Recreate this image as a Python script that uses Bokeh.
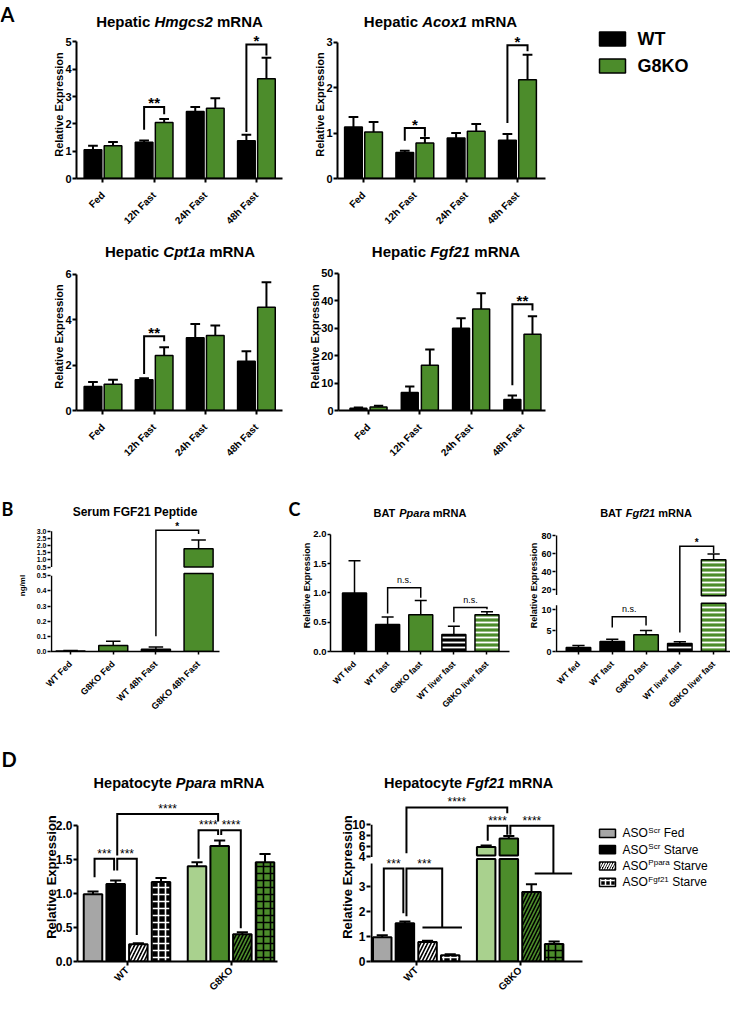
import math
import numpy as np
from bokeh.plotting import figure
from bokeh.layouts import column, row
from bokeh.models import Range1d, FixedTicker, Spacer, Title, PrintfTickFormatter
from bokeh.core.properties import value
from bokeh.embed import file_html
from bokeh.resources import INLINE

FONT = "Liberation Sans"
LETTER_FONT = "Lato"
BLACK = "#000000"
GREEN = "#4c8c2b"
LGREEN = "#a9d18e"
GRAY = "#a6a6a6"

# ---------------- Panel A data ----------------
A_cats = ["Fed", "12h Fast", "24h Fast", "48h Fast"]
hmgcs2_wt = [1.05, 1.33, 2.45, 1.38]
hmgcs2_wt_err = [0.15, 0.06, 0.17, 0.22]
hmgcs2_ko = [1.20, 2.05, 2.57, 3.65]
hmgcs2_ko_err = [0.14, 0.13, 0.37, 0.77]
hmgcs2_sig = [(1, "**", 2.62, 1.78, 2.35), (3, "*", 4.90, 1.70, 4.50)]

acox1_wt = [1.13, 0.57, 0.89, 0.84]
acox1_wt_err = [0.22, 0.04, 0.11, 0.14]
acox1_ko = [1.02, 0.78, 1.04, 2.17]
acox1_ko_err = [0.22, 0.11, 0.16, 0.55]
acox1_sig = [(1, "*", 1.11, 0.83, 0.92), (3, "*", 2.93, 1.22, 2.80)]

cpt1a_wt = [1.05, 1.35, 3.20, 2.16]
cpt1a_wt_err = [0.20, 0.07, 0.60, 0.44]
cpt1a_ko = [1.15, 2.42, 3.30, 4.54]
cpt1a_ko_err = [0.20, 0.36, 0.44, 1.10]
cpt1a_sig = [(1, "**", 3.26, 1.60, 3.04)]

fgf21_wt = [0.8, 6.6, 30.0, 4.0]
fgf21_wt_err = [0.3, 2.2, 3.7, 1.5]
fgf21_ko = [1.3, 16.5, 37.0, 27.8]
fgf21_ko_err = [0.4, 5.8, 5.8, 6.6]
fgf21_sig = [(3, "**", 38.8, 9.2, 36.5)]

# ---------------- Panel B data ----------------
B_cats = ["WT Fed", "G8KO Fed", "WT 48h Fast", "G8KO 48h Fast"]
B_geno = ["WT", "G8KO", "WT", "G8KO"]
serum_fgf21 = [0.004, 0.040, 0.015, 1.78]
serum_fgf21_err = [0.002, 0.028, 0.015, 0.61]
serum_sig = [(2, 3, 3.07, 0.10, 2.80, "*")]
serum_ticks_lo = [0.0, 0.1, 0.2, 0.3, 0.4, 0.5]
serum_ticks_up = [0.5, 1.0, 1.5, 2.0, 2.5, 3.0]

# ---------------- Panel C data ----------------
C_cats = ["WT fed", "WT fast", "G8KO fast", "WT liver fast", "G8KO liver fast"]
C_geno = ["WT", "WT", "G8KO", "WT", "G8KO"]
C_liver = [False, False, False, True, True]
bat_ppara = [1.00, 0.46, 0.63, 0.29, 0.63]
bat_ppara_err = [0.55, 0.13, 0.24, 0.14, 0.05]
bat_ppara_sig = [(1, 2, 1.09, 0.65, 0.92, "n.s."), (3, 4, 0.75, 0.50, 0.72, "n.s.")]
bat_fgf21 = [0.95, 2.4, 4.0, 1.9, 53.0]
bat_fgf21_err = [0.45, 0.5, 1.0, 0.4, 6.5]
bat_fgf21_sig = [(1, 2, 8.3, 5.7, 6.2, "n.s."), (3, 4, 68.0, 4.5, 60.5, "*")]
bat_fgf21_ticks_lo = [0, 5, 10]
bat_fgf21_ticks_up = [20, 40, 60, 80]

# ---------------- Panel D data ----------------
D_groups = ["WT", "G8KO"]
D_series_sup = ["Scr", "Scr", "Ppara", "Fgf21"]
D_series_cond = ["Fed", "Starve", "Starve", "Starve"]
hep_ppara = [[0.99, 1.14, 0.255, 1.17], [1.40, 1.70, 0.40, 1.46]]
hep_ppara_err = [[0.04, 0.05, 0.015, 0.06], [0.06, 0.08, 0.03, 0.12]]
hep_fgf21 = [[0.97, 1.52, 0.78, 0.25], [5.85, 7.40, 2.77, 0.70]]
hep_fgf21_err = [[0.08, 0.07, 0.05, 0.04], [0.25, 0.50, 0.31, 0.10]]
hep_fgf21_ticks_lo = [0, 1, 2, 3]
hep_fgf21_ticks_up = [4, 6, 8, 10]
# (group1, series1, group2, series2, top, left_end, right_end, label, tee)
hep_ppara_sig = [
    (0, 0, 0, 1, 1.51, 1.24, 1.34, "***", None),
    (0, 1, 0, 2, 1.51, 1.34, 0.39, "***", None),
    (0, 1, 1, 1, 2.17, 1.56, 2.06, "****", None),
    (1, 0, 1, 1, 1.93, 1.51, 1.86, "****", None),
    (1, 1, 1, 2, 1.93, 1.86, 0.49, "****", None),
]
hep_fgf21_sig = [
    (0, 0, 0, 1, 3.7, 1.20, 1.92, "***", None),
    (0, 1, 0, None, 3.7, 1.80, 1.35, "***", (0.25, 0.19)),
    (0, 1, 1, 1, 13.2, 4.7, 12.1, "****", None),
    (1, 0, 1, 1, 9.8, 7.0, 8.1, "****", None),
    (1, 1, 1, None, 9.8, 8.1, 3.5, "****", (0.32, 0.18)),
]

# ---------------- text metrics (Arial / Liberation Sans) ----------------
W_B = {' ': 278, 'A': 722, 'B': 722, 'C': 722, 'D': 722, 'E': 667, 'F': 611, 'G': 778, 'H': 722,
       'I': 278, 'K': 722, 'M': 833, 'N': 722, 'O': 778, 'P': 667, 'R': 722, 'S': 667, 'T': 611,
       'W': 944, 'a': 556, 'b': 611, 'c': 556, 'd': 611, 'e': 556, 'f': 333, 'g': 611, 'h': 611,
       'i': 278, 'l': 278, 'm': 889, 'n': 611, 'o': 611, 'p': 611, 'r': 389, 's': 556, 't': 333,
       'u': 611, 'v': 556, 'x': 556, 'y': 556, '.': 278, '*': 389}
W_R = {' ': 278, 'A': 667, 'O': 778, 'S': 667, 'F': 611, 'P': 667, 'a': 556, 'c': 500, 'd': 556,
       'e': 556, 'f': 278, 'g': 556, 'p': 556, 'r': 333, 't': 278, 'v': 500}


def tw(s, px, bold=True):
    t = W_B if bold else W_R
    return sum(t.get(c, 556) for c in s) * px / 1000.0


def ident(v):
    return v


def make_fig(w, h, xr, yr, mbl, mbr, mbt=0, mbb=0):
    p = figure(width=w, height=h, x_range=Range1d(*xr), y_range=Range1d(*yr),
               min_border_left=mbl, min_border_right=mbr, min_border_top=mbt,
               min_border_bottom=mbb, output_backend="svg", toolbar_location=None,
               tools="", title=None)
    p.grid.visible = False
    p.outline_line_color = None
    return p


def _style(ax, fs, lw, standoff, tick_out):
    ax.axis_line_width = lw
    ax.axis_line_color = BLACK
    ax.major_tick_line_width = lw
    ax.major_tick_line_color = BLACK
    ax.major_tick_in = 0
    ax.major_tick_out = tick_out
    ax.minor_tick_line_color = None
    ax.major_label_text_font = FONT
    ax.major_label_text_font_size = fs
    ax.major_label_text_font_style = "bold"
    ax.major_label_text_color = BLACK
    ax.major_label_standoff = standoff


def style_y(p, ticks, bounds, fs, lw, standoff=1, tick_out=4, fmt=None):
    ax = p.yaxis[0]
    ax.ticker = FixedTicker(ticks=list(ticks))
    ax.bounds = bounds
    if fmt:
        ax.formatter = PrintfTickFormatter(format=fmt)
    _style(ax, fs, lw, standoff, tick_out)


def style_x(p, labels, fs, lw, standoff=2, tick_out=4):
    ax = p.xaxis[0]
    ticks = list(range(len(labels)))
    ax.ticker = FixedTicker(ticks=ticks)
    ax.major_label_overrides = {t: l for t, l in zip(ticks, labels)}
    ax.major_label_orientation = math.pi / 4
    _style(ax, fs, lw, standoff, tick_out)


def axis_ylabel(p, text, fs, standoff):
    ax = p.yaxis[0]
    ax.axis_label = text
    ax.axis_label_text_font = FONT
    ax.axis_label_text_font_size = fs
    ax.axis_label_text_font_style = "bold"
    ax.axis_label_text_color = BLACK
    ax.axis_label_standoff = standoff


def title_ylabel(p, text, fs, offset, standoff=0):
    p.yaxis[0].axis_label_standoff = 0
    p.add_layout(Title(text=text, align="center", offset=offset, text_font=FONT,
                       text_font_size=fs, text_font_style="bold", text_color=BLACK,
                       standoff=standoff), "left")


def draw_bars(p, xs, bottoms, tops, bw, fills, lw=1.5, hatches=None, hcolors=None,
              hscale=6, hweight=1.5):
    if len(list(xs)) == 0:
        return
    kw = {}
    if hatches is not None:
        kw = dict(hatch_pattern=list(hatches), hatch_color=list(hcolors),
                  hatch_scale=hscale, hatch_weight=hweight)
    p.vbar(x=list(xs), bottom=list(bottoms), top=list(tops), width=bw,
           fill_color=list(fills), line_color=BLACK, line_width=lw, **kw)


def err_bars(p, xs, tops, errs, bw, elw=2.0, cap=0.55, T=ident):
    xs = list(xs)
    ups = [T(t + e) for t, e in zip(tops, errs)]
    lows = [T(t) for t in tops]
    half = bw * cap / 2.0
    p.segment(x0=xs, y0=lows, x1=xs, y1=ups, line_color=BLACK, line_width=elw)
    p.segment(x0=[x - half for x in xs], y0=ups, x1=[x + half for x in xs], y1=ups,
              line_color=BLACK, line_width=elw)


def bracket(p, x1, x2, top, yl, yr, lab, lw, fs, yoff, style="bold", T=ident, tee=None):
    p.line([x1, x1, x2, x2], [T(yl), T(top), T(top), T(yr)], line_color=BLACK,
           line_width=lw, line_join="miter")
    if tee is not None:
        p.segment(x0=[tee[0]], x1=[tee[1]], y0=[T(yr)], y1=[T(yr)], line_color=BLACK,
                  line_width=lw)
    if lab:
        p.text(x=[(x1 + x2) / 2.0], y=[T(top)], text=[lab], text_align="center",
               text_baseline="middle", y_offset=yoff, text_font=value(FONT),
               text_font_size=fs, text_font_style=style, text_color=BLACK)


class Broken:
    """Piecewise-linear broken y axis: values are mapped to pixel heights above zero."""

    def __init__(self, k_lo, lo_max, lo_top, base_up, v_up0, k_up, up_bottom, up_top,
                 lo_cut, up_cut):
        self.k_lo, self.lo_max, self.lo_top = k_lo, lo_max, lo_top
        self.base_up, self.v_up0, self.k_up = base_up, v_up0, k_up
        self.up_bottom, self.up_top = up_bottom, up_top
        self.lo_cut, self.up_cut = lo_cut, up_cut

    def lo(self, v):
        return v * self.k_lo

    def up(self, v):
        return self.base_up + (v - self.v_up0) * self.k_up

    def __call__(self, v):
        return self.lo(v) if v <= self.lo_max else self.up(v)

    def bars(self, p, xs, vals, bw, fills, **kw):
        xs, fills = list(xs), list(fills)
        hatches = kw.pop("hatches", None)
        hcolors = kw.pop("hcolors", None)
        lo_tops = [self.lo(v) if v <= self.lo_max else self.lo(self.lo_cut) for v in vals]
        draw_bars(p, xs, [0] * len(xs), lo_tops, bw, fills, hatches=hatches, hcolors=hcolors,
                  **kw)
        idx = [i for i, v in enumerate(vals) if v > self.lo_max]
        draw_bars(p, [xs[i] for i in idx], [self.up(self.up_cut)] * len(idx),
                  [self.up(vals[i]) for i in idx], bw, [fills[i] for i in idx],
                  hatches=None if hatches is None else [hatches[i] for i in idx],
                  hcolors=None if hcolors is None else [hcolors[i] for i in idx], **kw)

    def axis(self, p, ticks_lo, ticks_up, fmt, fs, lw, x0, standoff=1, tick_out=4):
        ticks = [round(self.lo(t), 3) for t in ticks_lo] + [round(self.up(t), 3) for t in ticks_up]
        labels = [fmt % t for t in ticks_lo] + [fmt % t for t in ticks_up]
        ax = p.yaxis[0]
        ax.ticker = FixedTicker(ticks=ticks)
        ax.major_label_overrides = {t: l for t, l in zip(ticks, labels)}
        _style(ax, fs, lw, standoff, tick_out)
        ax.axis_line_color = None
        p.segment(x0=[x0, x0], x1=[x0, x0],
                  y0=[self.lo(0), self.up(self.up_bottom)],
                  y1=[self.lo(self.lo_top), self.up(self.up_top)],
                  line_color=BLACK, line_width=lw)


def header(w, h, x0, y0, items):
    p = figure(width=w, height=h, x_range=Range1d(x0, x0 + w), y_range=Range1d(y0 + h, y0),
               x_axis_type=None, y_axis_type=None, min_border=0, output_backend="svg",
               toolbar_location=None, tools="", title=None)
    p.outline_line_color = None
    for x, y, txt, fs, style, font in items:
        p.text(x=[x], y=[y], text=[txt], text_font=value(font), text_font_size=fs,
               text_font_style=style, text_align="left", text_baseline="middle",
               text_color=BLACK)
    return p


def title_items(cx, y, parts, px):
    gap = tw(" ", px)
    total = sum(tw(t, px) for t, _ in parts) + gap * (len(parts) - 1)
    x = cx - total / 2.0
    out = []
    for t, st in parts:
        out.append((x, y, t, "%gpx" % px, st, FONT))
        x += tw(t, px) + gap
    return out


def gene_title(cx, y, pre, gene, px):
    return title_items(cx, y, [(pre, "bold"), (gene, "bold italic"), ("mRNA", "bold")], px)


# ---------------- Panel A figures ----------------
def panel_A(w, h, mbl, mbr, mbb, xr, yr, yticks, wt, wte, ko, koe, sig,
            bw=0.345, off=0.196):
    p = make_fig(w, h, xr, yr, mbl, mbr, 0, mbb)
    x = np.arange(len(A_cats))
    draw_bars(p, x - off, [0] * len(wt), wt, bw, [BLACK] * len(wt))
    draw_bars(p, x + off, [0] * len(ko), ko, bw, [GREEN] * len(ko))
    err_bars(p, x - off, wt, wte, bw)
    err_bars(p, x + off, ko, koe, bw)
    for g, lab, top, yl, yrr in sig:
        bracket(p, g - off, g + off, top, yl, yrr, lab, 2, "15px", -4)
    style_y(p, yticks, (yticks[0], yticks[-1]), "11px", 2, standoff=1)
    style_x(p, A_cats, "10px", 2, standoff=11)
    axis_ylabel(p, "Relative Expression", "11px", -3)
    return p


A1 = panel_A(292, 202, 76, 10, 52, (-0.518, 3.51), (0, 5.415), [0, 1, 2, 3, 4, 5],
             hmgcs2_wt, hmgcs2_wt_err, hmgcs2_ko, hmgcs2_ko_err, hmgcs2_sig)
A2 = panel_A(260, 202, 45, 7, 52, (-0.507, 3.546), (0, 3.254), [0, 1, 2, 3],
             acox1_wt, acox1_wt_err, acox1_ko, acox1_ko_err, acox1_sig)
A3 = panel_A(292, 202, 76, 10, 53, (-0.518, 3.51), (0, 6.507), [0, 2, 4, 6],
             cpt1a_wt, cpt1a_wt_err, cpt1a_ko, cpt1a_ko_err, cpt1a_sig)
A4 = panel_A(260, 202, 46, 7, 53, (-0.585, 3.45), (0, 54.0), [0, 10, 20, 30, 40, 50],
             fgf21_wt, fgf21_wt_err, fgf21_ko, fgf21_ko_err, fgf21_sig, bw=0.33)

# legend for panel A (spans header + first plot row)
legA = figure(width=178, height=232, x_range=Range1d(560, 738), y_range=Range1d(240, 8),
              x_axis_type=None, y_axis_type=None, min_border=0, output_backend="svg",
              toolbar_location=None, tools="", title=None)
legA.outline_line_color = None
LA_X, LA_Y, LA_DY, LA_W, LA_H = 607, 46.5, 27, 26, 14
legA.quad(left=[LA_X] * 2, right=[LA_X + LA_W] * 2,
          top=[LA_Y - LA_H / 2, LA_Y + LA_DY - LA_H / 2],
          bottom=[LA_Y + LA_H / 2, LA_Y + LA_DY + LA_H / 2],
          fill_color=[BLACK, GREEN], line_color=BLACK, line_width=1.5)
legA.text(x=[LA_X + 38] * 2, y=[LA_Y, LA_Y + LA_DY], text=["WT", "G8KO"],
          text_font=value(FONT), text_font_size="18px", text_font_style="bold",
          text_baseline="middle", text_color=BLACK)

# ---------------- Panel B (broken axis) ----------------
xr_B = (-0.47, 3.49)
B = make_fig(232, 211, xr_B, (0, 136), 50, 13, 0, 75)
bkB = Broken(k_lo=156, lo_max=0.5, lo_top=0.5, base_up=87, v_up0=0.5, k_up=14.8,
             up_bottom=0.5, up_top=3.0, lo_cut=0.515, up_cut=0.5)
xB = np.arange(len(B_cats))
fB = [BLACK if g == "WT" else GREEN for g in B_geno]
bwB = 0.68
bkB.bars(B, xB, serum_fgf21, bwB, fB)
err_bars(B, xB, serum_fgf21, serum_fgf21_err, bwB, elw=1.5, cap=0.5, T=bkB)
for i1, i2, top, yl, yr_, lab in serum_sig:
    bracket(B, i1, i2, top, yl, yr_, lab, 1.5, "10px", -4, T=bkB)
pxB = 169.0 / (xr_B[1] - xr_B[0])
bkB.axis(B, serum_ticks_lo, serum_ticks_up, "%.1f", "7px", 1.5, xr_B[0] + 1.0 / pxB, 1, 3)
style_x(B, B_cats, "9px", 1.5, 8, 3)
axis_ylabel(B, "ng/ml", "8px", 7)

# ---------------- Panel C ----------------
xC = np.arange(len(C_cats))
fC = [BLACK if g == "WT" else GREEN for g in C_geno]
hC = ["-" if lv else " " for lv in C_liver]
hcC = ["white"] * len(C_cats)
bwC = 0.725

C1 = make_fig(290, 211, (-0.725, 4.68), (0, 2.256), 98, 13, 0, 79)
draw_bars(C1, xC, [0] * 5, bat_ppara, bwC, fC, hatches=hC, hcolors=hcC, hscale=5,
          hweight=1.8)
err_bars(C1, xC, bat_ppara, bat_ppara_err, bwC, elw=1.5, cap=0.5)
for i1, i2, top, yl, yr_, lab in bat_ppara_sig:
    bracket(C1, i1, i2, top, yl, yr_, lab, 1.5, "9px", -8, style="normal")
style_y(C1, [0.0, 0.5, 1.0, 1.5, 2.0], (0.0, 2.0), "9.5px", 1.5, 1, 3, fmt="%.1f")
style_x(C1, C_cats, "8.5px", 1.5, 8, 3)
axis_ylabel(C1, "Relative Expression", "9px", -2)

xr_C2 = (-0.68, 4.5)
C2 = make_fig(208, 211, xr_C2, (0, 132), 33, 0, 0, 79)
bkC = Broken(k_lo=4.2, lo_max=15.0, lo_top=11.0, base_up=62.0, v_up0=20.0, k_up=0.9,
             up_bottom=14.0, up_top=80.0, lo_cut=11.5, up_cut=13.0)
bkC.bars(C2, xC, bat_fgf21, bwC, fC, hatches=hC, hcolors=hcC, hscale=5, hweight=1.8)
err_bars(C2, xC, bat_fgf21, bat_fgf21_err, bwC, elw=1.5, cap=0.5, T=bkC)
for i1, i2, top, yl, yr_, lab in bat_fgf21_sig:
    ns = lab == "n.s."
    bracket(C2, i1, i2, top, yl, yr_, lab, 1.5, "9px" if ns else "10px", -8 if ns else -4,
            style="normal" if ns else "bold", T=bkC)
pxC = 175.0 / (xr_C2[1] - xr_C2[0])
bkC.axis(C2, bat_fgf21_ticks_lo, bat_fgf21_ticks_up, "%d", "9px", 1.5,
         xr_C2[0] + 1.0 / pxC, 1, 3)
style_x(C2, C_cats, "8.5px", 1.5, 8, 3)
axis_ylabel(C2, "Relative Expression", "9px", -1)

# ---------------- Panel D ----------------
D_off = [-0.327, -0.109, 0.109, 0.327]
bwD = 0.178
D_fill = [[GRAY, BLACK, BLACK, BLACK], [LGREEN, GREEN, GREEN, GREEN]]
D_hatch = [" ", " ", "/", "+"]
D_hcol = [["white"] * 4, [BLACK] * 4]


def d_x(g, s):
    return g + D_off[s]


def d_brackets(p, sigs, fs, T=ident):
    for g1, s1, g2, s2, top, yl, yr_, lab, tee in sigs:
        x1 = d_x(g1, s1) + 0.015
        if s2 is None:
            x2 = g2 + tee[0]
            tspan = (x2 - tee[1], x2 + tee[1])
        else:
            x2 = d_x(g2, s2) - 0.015
            tspan = None
        bracket(p, x1, x2, top, yl, yr_, lab, 2, fs, -5, style="normal", T=T, tee=tspan)


xr_D1 = (-0.476, 1.447)
D1 = make_fig(292, 207, xr_D1, (0, 2.486), 77, 15, 0, 33)
for g in range(2):
    xs = [d_x(g, s) for s in range(4)]
    draw_bars(D1, xs, [0] * 4, hep_ppara[g], bwD, D_fill[g], lw=2, hatches=D_hatch,
              hcolors=D_hcol[g], hscale=7, hweight=1.6)
    err_bars(D1, xs, hep_ppara[g], hep_ppara_err[g], bwD, elw=2, cap=0.6)
d_brackets(D1, hep_ppara_sig, "12px")
style_y(D1, [0.0, 0.5, 1.0, 1.5, 2.0], (0.0, 2.0), "12px", 2, 1, 4, fmt="%.1f")
style_x(D1, D_groups, "10px", 2, 3, 4)
title_ylabel(D1, "Relative Expression", "13px", -17, standoff=-12)

xr_D2 = (-0.44, 1.6)
D2 = make_fig(300, 207, xr_D2, (0, 175), 78, 10, 0, 32)
bkD = Broken(k_lo=26.0, lo_max=3.95, lo_top=3.9, base_up=108.3, v_up0=4.0, k_up=5.57,
             up_bottom=4.0, up_top=10.0, lo_cut=4.08, up_cut=4.25)
for g in range(2):
    xs = [d_x(g, s) for s in range(4)]
    bkD.bars(D2, xs, hep_fgf21[g], bwD, D_fill[g], lw=2, hatches=D_hatch,
             hcolors=D_hcol[g], hscale=7, hweight=1.6)
    err_bars(D2, xs, hep_fgf21[g], hep_fgf21_err[g], bwD, elw=2, cap=0.6, T=bkD)
d_brackets(D2, hep_fgf21_sig, "12px", T=bkD)
pxD = 212.0 / (xr_D2[1] - xr_D2[0])
bkD.axis(D2, hep_fgf21_ticks_lo, hep_fgf21_ticks_up, "%d", "12px", 2,
         xr_D2[0] + 1.0 / pxD, 1, 4)
style_x(D2, D_groups, "10px", 2, 3, 4)
title_ylabel(D2, "Relative Expression", "13px", -16, standoff=-11)

# legend for panel D
legD = figure(width=138, height=207, x_range=Range1d(600, 738), y_range=Range1d(1007, 800),
              x_axis_type=None, y_axis_type=None, min_border=0, output_backend="svg",
              toolbar_location=None, tools="", title=None)
legD.outline_line_color = None
LD_X, LD_Y, LD_DY = 607, 850, 20
ys = [LD_Y + i * LD_DY for i in range(4)]
legD.quad(left=[LD_X] * 4, right=[LD_X + 16] * 4, top=[y - 5 for y in ys],
          bottom=[y + 5 for y in ys], fill_color=D_fill[0], line_color=BLACK, line_width=1.5,
          hatch_pattern=D_hatch, hatch_color="white", hatch_scale=5, hatch_weight=1.5)
tx = LD_X + 23
legD.text(x=[tx] * 4, y=ys, text=["ASO"] * 4, text_font=value(FONT), text_font_size="12px",
          text_baseline="middle", text_color=BLACK)
sx = tx + tw("ASO", 12, False) + 0.5
legD.text(x=[sx] * 4, y=[y - 4 for y in ys], text=D_series_sup, text_font=value(FONT),
          text_font_size="8px", text_baseline="middle", text_color=BLACK)
rx = [sx + tw(s, 8, False) + tw(" ", 12, False) for s in D_series_sup]
legD.text(x=rx, y=ys, text=D_series_cond, text_font=value(FONT), text_font_size="12px",
          text_baseline="middle", text_color=BLACK)

# ---------------- headers ----------------
H1 = header(552, 30, 8, 8, [(8, 21, "A", "20px", "bold", LETTER_FONT)]
            + gene_title(187, 28.5, "Hepatic", "Hmgcs2", 15)
            + gene_title(448, 28.5, "Hepatic", "Acox1", 15))
H2 = header(730, 30, 8, 240, gene_title(187.5, 259, "Hepatic", "Cpt1a", 15)
            + gene_title(453.5, 259, "Hepatic", "Fgf21", 15))
H3 = header(730, 55, 8, 472, [(9, 516, "B", "18px", "bold", LETTER_FONT),
                              (296, 516, "C", "18px", "bold", LETTER_FONT)]
            + title_items(142.5, 519.5, [("Serum", "bold"), ("FGF21", "bold"),
                                         ("Peptide", "bold")], 12)
            + gene_title(427.5, 520, "BAT", "Ppara", 11)
            + gene_title(653.5, 520, "BAT", "Fgf21", 11))
H4 = header(730, 62, 8, 738, [(9, 766, "D", "20px", "bold", LETTER_FONT)]
            + gene_title(186.5, 790, "Hepatocyte", "Ppara", 14.5)
            + gene_title(476, 790, "Hepatocyte", "Fgf21", 14.5))

layout = column(
    row(column(H1, row(A1, A2)), legA),
    H2,
    row(A3, A4, Spacer(width=178, height=202)),
    H3,
    row(B, C1, C2),
    H4,
    row(D1, D2, legD),
)

open("out.html", "w").write(file_html(layout, INLINE))
